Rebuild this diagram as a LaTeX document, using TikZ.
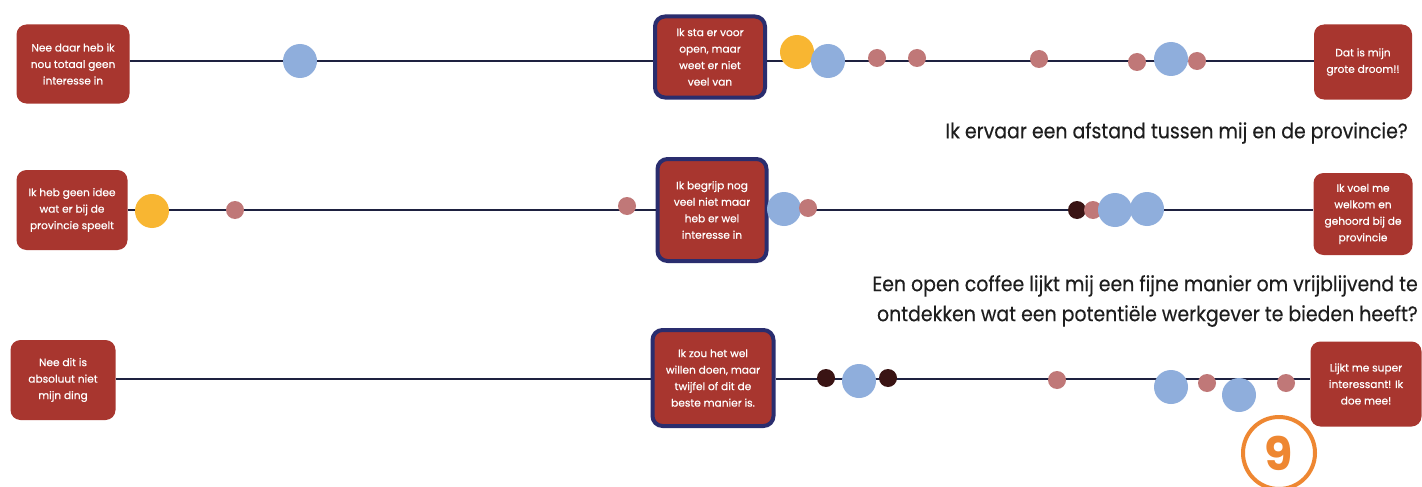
\documentclass[tikz,border=0pt]{standalone}
\usepackage{fontspec}
\setmainfont{Poppins}
\newfontfamily\boxfont[FakeBold=0.6]{Poppins}
\newfontfamily\qfont[FakeStretch=0.9,FakeBold=0.3]{Poppins}
\definecolor{boxred}{HTML}{A8362F}
\definecolor{navy}{HTML}{2A2D6E}
\definecolor{linecol}{HTML}{1E2140}
\definecolor{dotblue}{HTML}{8FAEDC}
\definecolor{dotyellow}{HTML}{F8B632}
\definecolor{dotpink}{HTML}{C07878}
\definecolor{dotdark}{HTML}{3A1414}
\definecolor{qtext}{HTML}{1E1E1E}
\definecolor{pageorange}{HTML}{EE8732}
\tikzset{
  answer/.style={fill=boxred, rounded corners=10pt, text=white, align=center,
    font=\boxfont\fontsize{10.6}{16.5}\selectfont, inner sep=0pt},
  midanswer/.style={answer, draw=navy, line width=4pt},
  conn/.style={draw=linecol, line width=2.4pt},
  bigdot/.style={circle, inner sep=0pt, minimum size=34pt},
  smalldot/.style={circle, inner sep=0pt, minimum size=18pt},
  bluedot/.style={bigdot, fill=dotblue},
  yellowdot/.style={bigdot, fill=dotyellow},
  pinkdot/.style={smalldot, fill=dotpink},
  darkdot/.style={smalldot, fill=dotdark},
  question/.style={text=qtext, font=\qfont\fontsize{21}{30}\selectfont, inner sep=0pt},
}
\begin{document}
\begin{tikzpicture}[x=1pt,y=-1pt]
\useasboundingbox[fill=white] (0,0) rectangle (1422,487);
\coordinate (row1) at (0,61);
\coordinate (row2) at (0,210);
\coordinate (row3) at (0,379);

% ---------- row 1 ----------
\node[answer, minimum width=113pt, minimum height=79pt] (l1) at (73,64)
  {Nee daar heb ik\\nou totaal geen\\interesse in};
\node[midanswer, minimum width=110pt, minimum height=81pt] (m1) at (710,57)
  {Ik sta er voor\\open, maar\\weet er niet\\veel van};
\node[answer, minimum width=98pt, minimum height=75pt] (r1) at (1363,62)
  {Dat is mijn\\grote droom!!};
\draw[conn] (l1.east |- row1) -- (m1.west |- row1);
\draw[conn] (m1.east |- row1) -- (r1.west |- row1);
\node[bluedot] (a1) at (300,61) {};
\node[yellowdot] (a2) at (797,52) {};
\node[bluedot] (a3) at (828,61) {};
\node[pinkdot] (a4) at (877,58) {};
\node[pinkdot] (a5) at (917,58) {};
\node[pinkdot] (a6) at (1039,59) {};
\node[pinkdot] (a7) at (1137,62) {};
\node[bluedot] (a8) at (1171,59) {};
\node[pinkdot] (a9) at (1197,61) {};

\node[question, anchor=east] (q1) at (1408,133)
  {Ik ervaar een afstand tussen mij en de provincie?};

% ---------- row 2 ----------
\node[answer, minimum width=111pt, minimum height=80pt] (l2) at (72,210)
  {Ik heb geen idee\\wat er bij de\\provincie speelt};
\node[midanswer, minimum width=109pt, minimum height=102pt] (m2) at (712,210)
  {Ik begrijp nog\\veel niet maar\\heb er wel\\interesse in};
\node[answer, minimum width=99pt, minimum height=82pt] (r2) at (1363,214)
  {Ik voel me\\welkom en\\gehoord bij de\\provincie};
\draw[conn] (l2.east |- row2) -- (m2.west |- row2);
\draw[conn] (m2.east |- row2) -- (r2.west |- row2);
\node[yellowdot] (b1) at (152,211) {};
\node[pinkdot] (b2) at (235,210) {};
\node[pinkdot] (b3) at (627,206) {};
\node[bluedot] (b4) at (784,209) {};
\node[pinkdot] (b5) at (808,208) {};
\node[darkdot] (b6) at (1077,210) {};
\node[pinkdot] (b7) at (1093,210) {};
\node[bluedot] (b8) at (1115,210) {};
\node[bluedot] (b9) at (1147,209) {};

\node[question, anchor=east, align=right] (q2) at (1418,301)
  {Een open coffee lijkt mij een fijne manier om vrijblijvend te\\
   ontdekken wat een potentiële werkgever te bieden heeft?};

% ---------- row 3 ----------
\node[answer, minimum width=105pt, minimum height=80pt] (l3) at (63,380)
  {Nee dit is\\absoluut niet\\mijn ding};
\node[midanswer, minimum width=121pt, minimum height=96pt] (m3) at (713,378)
  {Ik zou het wel\\willen doen, maar\\twijfel of dit de\\beste manier is.};
\node[answer, minimum width=111pt, minimum height=85pt] (r3) at (1366,384)
  {Lijkt me super\\interessant! Ik\\doe mee!};
\draw[conn] (l3.east |- row3) -- (m3.west |- row3);
\draw[conn] (m3.east |- row3) -- (r3.west |- row3);
\node[darkdot] (c1) at (826,378) {};
\node[bluedot] (c2) at (859,381) {};
\node[darkdot] (c3) at (888,378) {};
\node[pinkdot] (c4) at (1057,380) {};
\node[bluedot] (c5) at (1171,387) {};
\node[pinkdot] (c6) at (1207,383) {};
\node[bluedot] (c7) at (1239,395) {};
\node[pinkdot] (c8) at (1286,383) {};

% ---------- page number ----------
\node[circle, draw=pageorange, line width=4pt, minimum size=72pt, inner sep=0pt,
      text=pageorange, font=\bfseries\fontsize{46}{46}\selectfont] (nine) at (1279,453) {9};
\end{tikzpicture}
\end{document}
